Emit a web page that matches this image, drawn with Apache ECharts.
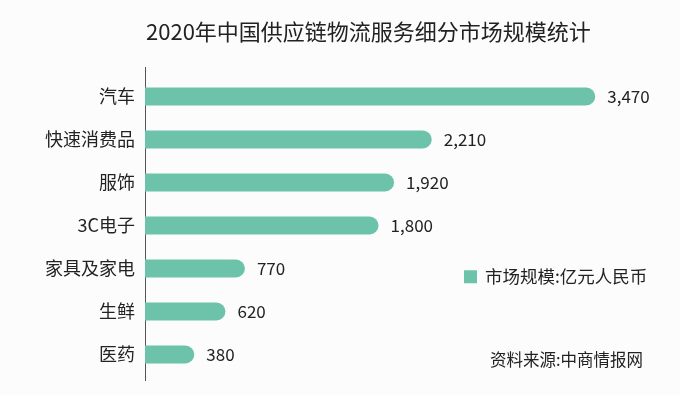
<!DOCTYPE html>
<html><head><meta charset="utf-8">
<script src="https://cdn.jsdelivr.net/npm/echarts@6/dist/echarts.min.js"></script>
<style>html,body{margin:0;padding:0;background:#fcfcfd}#c{width:680px;height:395px}</style>
</head><body><div id="c"></div>
<script>
const categories = ['汽车','快速消费品','服饰','3C电子','家具及家电','生鲜','医药'];
const values = [3470, 2210, 1920, 1800, 770, 620, 380];
const seriesName = '市场规模:亿元人民币';
const titleText = '2020年中国供应链物流服务细分市场规模统计';
const sourceText = '资料来源:中商情报网';

const chart = echarts.init(document.getElementById('c'));
const font = '"Noto Sans CJK SC", "Noto Sans", sans-serif';
chart.setOption({
  backgroundColor: '#fcfcfd',
  textStyle: {fontFamily: font},
  title: {text: titleText, left: 146, top: 21, padding: 0, textStyle: {fontFamily: font, fontSize: 22, fontWeight: 'normal', color: '#222'}},
  legend: {data: [seriesName], left: 464, top: 268, padding: 0, itemWidth: 13, itemHeight: 13, itemGap: 10, icon: 'rect',
    textStyle: {fontFamily: font, fontSize: 17.5, color: '#222', padding: [0,0,0,3]}},
  graphic: [
    {type: 'text', left: 490, top: 351, style: {text: sourceText, font: '16.5px ' + font, fill: '#222'}},
    {type: 'line', shape: {x1: 145.5, y1: 67, x2: 145.5, y2: 381}, style: {stroke: '#555', lineWidth: 1}}
  ],
  grid: {left: 145, top: 75, width: 519, height: 301},
  xAxis: {type: 'value', min: 0, max: 4000, show: false},
  yAxis: {type: 'category', data: categories, inverse: true,
    axisLine: {show: false}, axisTick: {show: false},
    axisLabel: {fontFamily: font, fontSize: 18, color: '#222', margin: 10}},
  series: [{
    name: seriesName, type: 'bar', data: values, barWidth: 18,
    itemStyle: {color: '#6cc3aa', borderRadius: [0, 9, 9, 0]},
    label: {show: true, position: 'right', distance: 12, fontFamily: font, fontSize: 17, color: '#222',
      formatter: p => p.value.toLocaleString('en-US')}
  }]
});
</script></body></html>
